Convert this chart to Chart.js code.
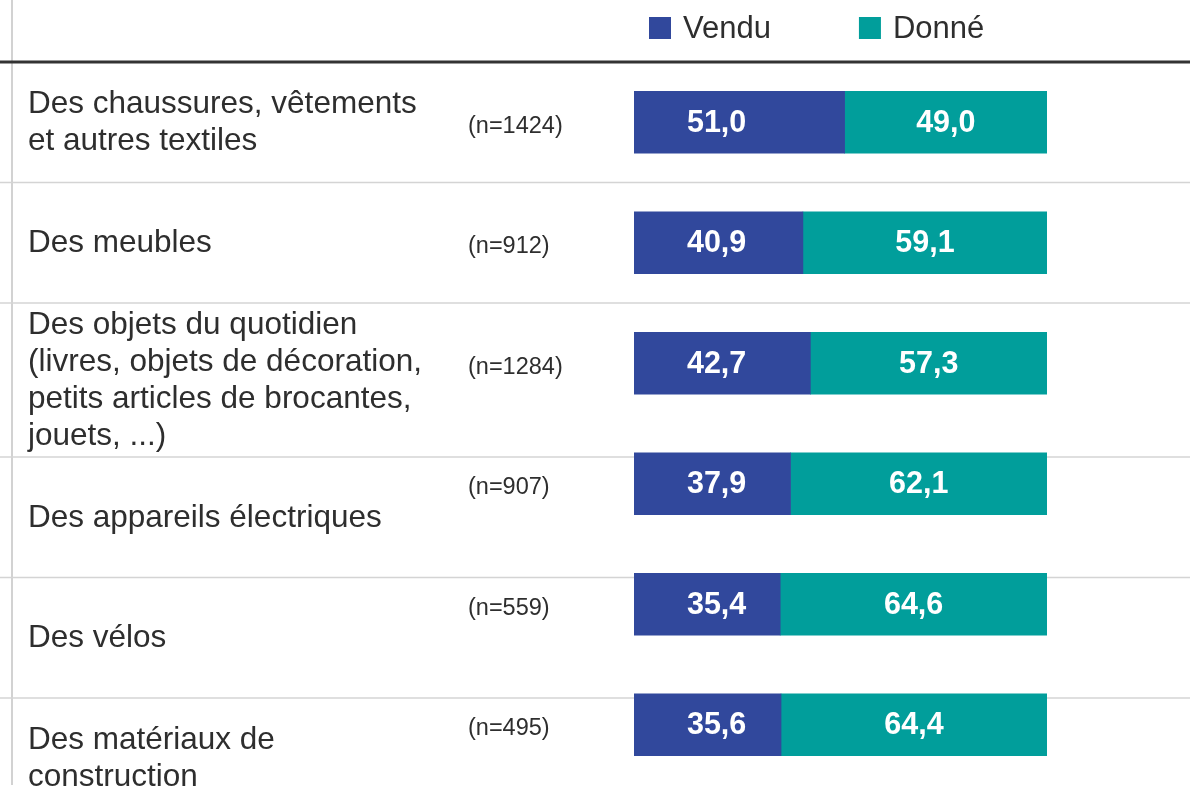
<!DOCTYPE html>
<html>
<head>
<meta charset="utf-8">
<script src="https://cdn.jsdelivr.net/npm/chart.js@4/dist/chart.umd.min.js"></script>
<style>
  html, body { margin: 0; padding: 0; background: #fff; }
  #wrap { width: 1190px; height: 789px; position: relative; }
</style>
</head>
<body>
<div id="wrap"><canvas id="myChart"></canvas></div>
<script>
// data
const categories = [
  ['Des chaussures, vêtements', 'et autres textiles'],
  ['Des meubles'],
  ['Des objets du quotidien', '(livres, objets de décoration,', 'petits articles de brocantes,', 'jouets, ...)'],
  ['Des appareils électriques'],
  ['Des vélos'],
  ['Des matériaux de', 'construction']
];
const sampleSizes = [1424, 912, 1284, 907, 559, 495];
const vendu = [51.0, 40.9, 42.7, 37.9, 35.4, 35.6];
const donne = [49.0, 59.1, 57.3, 62.1, 64.6, 64.4];

const FONT = '"Liberation Sans", Arial, sans-serif';
const TEXT = '#2e2e2e';

// table lines, row labels, legend and value labels
const tableDecor = {
  id: 'tableDecor',
  beforeDatasetsDraw(chart) {
    const ctx = chart.ctx;
    const area = chart.chartArea;
    const yScale = chart.scales.y;
    const W = chart.width;
    const catH = (area.bottom - area.top) / categories.length;
    const lineH = 37;

    ctx.save();
    // left vertical rule
    ctx.strokeStyle = '#d2d2d2';
    ctx.lineWidth = 2;
    ctx.beginPath();
    ctx.moveTo(12, 0);
    ctx.lineTo(12, area.bottom);
    ctx.stroke();

    let top = area.top;
    categories.forEach((lines, i) => {
      const rowH = Math.max(catH, lines.length * lineH + 6);
      const mid = top + rowH / 2 + 1;

      ctx.fillStyle = TEXT;
      ctx.font = '31.5px ' + FONT;
      ctx.textAlign = 'left';
      ctx.textBaseline = 'middle';
      lines.forEach((ln, k) => {
        ctx.fillText(ln, 28, mid + (k - (lines.length - 1) / 2) * lineH);
      });

      ctx.font = '23.5px ' + FONT;
      ctx.fillText('(n=' + sampleSizes[i] + ')', 468, yScale.getPixelForValue(i) + 4);

      top += rowH;
      if (i < categories.length - 1) {
        ctx.strokeStyle = '#d4d4d4';
        ctx.lineWidth = 1.5;
        ctx.beginPath();
        ctx.moveTo(0, top);
        ctx.lineTo(W, top);
        ctx.stroke();
      }
    });

    // header rule
    ctx.strokeStyle = '#333';
    ctx.lineWidth = 3;
    ctx.beginPath();
    ctx.moveTo(0, area.top);
    ctx.lineTo(W, area.top);
    ctx.stroke();

    // legend
    let lx = 649;
    ctx.font = '31px ' + FONT;
    ctx.textBaseline = 'middle';
    chart.data.datasets.forEach(ds => {
      ctx.fillStyle = ds.backgroundColor;
      ctx.fillRect(lx, 17, 22, 22);
      ctx.fillStyle = TEXT;
      ctx.fillText(ds.label, lx + 34, 29);
      lx += 34 + ctx.measureText(ds.label).width + 88;
    });
    ctx.restore();
  },
  afterDatasetsDraw(chart) {
    const ctx = chart.ctx;
    const xScale = chart.scales.x;
    ctx.save();
    ctx.fillStyle = '#fff';
    ctx.font = 'bold 30.5px ' + FONT;
    ctx.textAlign = 'center';
    ctx.textBaseline = 'middle';
    chart.data.datasets.forEach((ds, d) => {
      chart.getDatasetMeta(d).data.forEach((bar, i) => {
        // first series labels sit at a fixed spot, the others in the middle of their segment
        const cx = d === 0 ? xScale.getPixelForValue(20) : (bar.x + bar.base) / 2;
        ctx.fillText(ds.data[i].toFixed(1).replace('.', ','), cx, bar.y + 1);
      });
    });
    ctx.restore();
  }
};

const data = {
  labels: categories,
  datasets: [
    {
      label: 'Vendu',
      data: vendu,
      backgroundColor: '#31489c',
      borderWidth: 0,
      barThickness: 62
    },
    {
      label: 'Donné',
      data: donne,
      backgroundColor: '#019e9b',
      borderWidth: 0,
      barThickness: 62
    }
  ]
};

const config = {
  type: 'bar',
  data: data,
  options: {
    indexAxis: 'y',
    responsive: true,
    maintainAspectRatio: false,
    animation: false,
    layout: { padding: { left: 634, right: 143, top: 62, bottom: 4 } },
    plugins: {
      legend: { display: false },
      tooltip: { enabled: false }
    },
    scales: {
      x: { stacked: true, min: 0, max: 100, display: false },
      y: { stacked: true, display: false }
    }
  },
  plugins: [tableDecor]
};

const myChart = new Chart(document.getElementById('myChart'), config);
</script>
</body>
</html>
